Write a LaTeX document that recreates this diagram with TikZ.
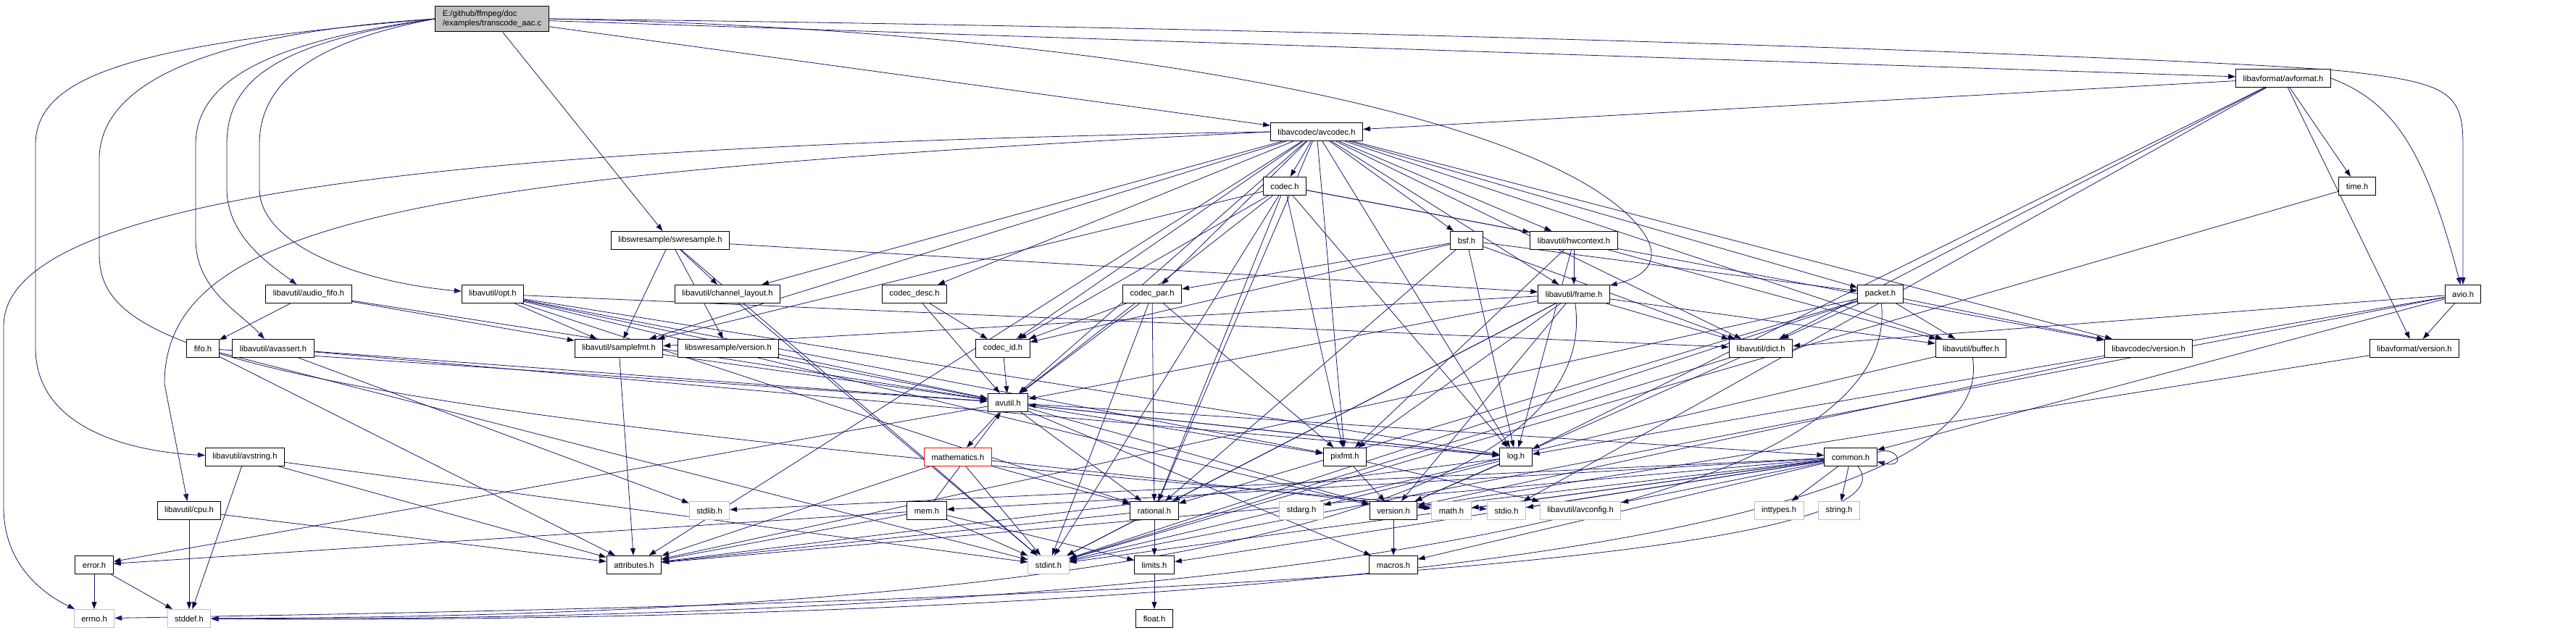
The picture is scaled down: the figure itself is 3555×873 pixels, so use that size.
\documentclass[tikz,border=0pt]{standalone}
\usepackage{fontspec}
\usepackage{tikz}
\usetikzlibrary{arrows.meta,backgrounds}
\newfontfamily\dxfont{Liberation Sans}
\definecolor{dxEdge}{HTML}{191970}
\definecolor{dxGray}{HTML}{BFBFBF}
\definecolor{dxRed}{HTML}{FF0000}
\tikzset{
  dx-box/.style={
    draw=black, line width=1pt, fill=white,
    font=\dxfont\fontsize{11.2}{13.5}\selectfont,
    inner xsep=10pt, inner ysep=2pt, minimum height=25pt
  },
  dx-sys/.style={dx-box, draw=dxGray},
  dx-trunc/.style={dx-box, draw=dxRed},
  dx-main/.style={dx-box, fill=dxGray, align=left, inner ysep=6pt},
  dx-dep/.style={-{Triangle[length=10pt,width=7pt]}, draw=dxEdge,
    line width=0.8pt}
}

\begin{document}
\begin{tikzpicture}[x=1pt, y=-1pt]
\useasboundingbox (0,0) rectangle (3555,873);
% top file and its direct includes
\node[dx-main] (main) at (679,26) {E:/github/ffmpeg/doc\\/examples/transcode\_aac.c};
\node[dx-box] (avformat) at (3151,108) {libavformat/avformat.h};
\node[dx-box] (avcodec) at (1817,182) {libavcodec/avcodec.h};
\node[dx-box] (codec) at (1773,257) {codec.h};
\node[dx-box] (timeh) at (3253,257) {time.h};
\node[dx-box] (swr) at (925,332) {libswresample/swresample.h};
\node[dx-box] (bsf) at (2024,332) {bsf.h};
\node[dx-box] (hwctx) at (2172,332) {libavutil/hwcontext.h};
\node[dx-box] (afifo) at (426,406) {libavutil/audio\_fifo.h};
\node[dx-box] (opt) at (680,406) {libavutil/opt.h};
\node[dx-box] (chlayout) at (1004,406) {libavutil/channel\_layout.h};
\node[dx-box] (cdesc) at (1262,406) {codec\_desc.h};
\node[dx-box] (cpar) at (1590,406) {codec\_par.h};
\node[dx-box] (frame) at (2172,406) {libavutil/frame.h};
\node[dx-box] (packet) at (2595,406) {packet.h};
\node[dx-box] (avio) at (3399,406) {avio.h};
% libavutil level
\node[dx-box] (fifo) at (280,481) {fifo.h};
\node[dx-box] (avassert) at (377,481) {libavutil/avassert.h};
\node[dx-box] (samplefmt) at (854,481) {libavutil/samplefmt.h};
\node[dx-box] (swrver) at (1005,481) {libswresample/version.h};
\node[dx-box] (codecid) at (1384,481) {codec\_id.h};
\node[dx-box] (dict) at (2430,481) {libavutil/dict.h};
\node[dx-box] (buffer) at (2720,481) {libavutil/buffer.h};
\node[dx-box] (avcver) at (2965,481) {libavcodec/version.h};
\node[dx-box] (avfver) at (3332,481) {libavformat/version.h};
\node[dx-box] (avutil) at (1391,556) {avutil.h};
\node[dx-box] (avstring) at (338,631) {libavutil/avstring.h};
\node[dx-trunc] (mathh) at (1322,631) {mathematics.h};
\node[dx-box] (pixfmt) at (1856,631) {pixfmt.h};
\node[dx-box] (logh) at (2092,631) {log.h};
\node[dx-box] (common) at (2554,631) {common.h};
% leaf headers
\node[dx-box] (cpu) at (261,705) {libavutil/cpu.h};
\node[dx-sys] (stdlib) at (979,705) {stdlib.h};
\node[dx-box] (mem) at (1279,705) {mem.h};
\node[dx-box] (rational) at (1593,705) {rational.h};
\node[dx-sys] (stdarg) at (1796,705) {stdarg.h};
\node[dx-box] (version) at (1923,705) {version.h};
\node[dx-sys] (mathc) at (2003,705) {math.h};
\node[dx-sys] (stdio) at (2079,705) {stdio.h};
\node[dx-sys] (avconfig) at (2181,705) {libavutil/avconfig.h};
\node[dx-sys] (inttypes) at (2455,705) {inttypes.h};
\node[dx-sys] (stringh) at (2538,705) {string.h};
\node[dx-box] (error) at (130,780) {error.h};
\node[dx-box] (attributes) at (875,780) {attributes.h};
\node[dx-sys] (stdint) at (1447,780) {stdint.h};
\node[dx-box] (limits) at (1593,780) {limits.h};
\node[dx-box] (macros) at (1923,780) {macros.h};
\node[dx-sys] (errno) at (130,854) {errno.h};
\node[dx-sys] (stddef) at (261,854) {stddef.h};
\node[dx-box] (floath) at (1593,854) {float.h};

\begin{scope}[on background layer]
% includes of the example file
\draw[dx-dep] (main) edge (avformat) edge (avcodec) edge (swr);
\draw[dx-dep] (main.east) .. controls (1500,40) and (2100,150) .. (2250,300)
  .. controls (2300,350) and (2280,380) .. (frame);
\draw[dx-dep] (main.east) .. controls (2000,40) and (3150,85) .. (3250,100)
  .. controls (3380,115) and (3399,130) .. (3399,200) -- (avio);
\draw[dx-dep] (main.west) .. controls (200,60) and (49,100) .. (49,200) -- (49,480)
  .. controls (49,600) and (200,625) .. (avstring);
\draw[dx-dep] (main.west) .. controls (300,45) and (137,110) .. (137,220) -- (137,350)
  .. controls (137,480) and (300,560) .. (stdio);
\draw[dx-dep] (main.west) .. controls (350,60) and (270,120) .. (270,200) -- (270,330)
  .. controls (270,400) and (330,430) .. (avassert);
\draw[dx-dep] (main.west) .. controls (380,60) and (313,110) .. (313,200) -- (313,260)
  .. controls (313,330) and (380,370) .. (afifo);
\draw[dx-dep] (main.west) .. controls (420,60) and (358,120) .. (358,200) -- (358,260)
  .. controls (358,340) and (500,390) .. (opt);

% libavformat / libavcodec
\draw[dx-dep] (avformat) edge (timeh) edge (stdio) edge (avcodec) edge (dict) edge (logh) edge (avfver);
\draw[dx-dep] (avformat.east) .. controls (3300,140) and (3345,200) .. (avio);
\draw[dx-dep] (avcodec) edge (samplefmt) edge (attributes) edge (avutil) edge (buffer) edge (chlayout)
  edge (dict) edge (frame) edge (hwctx) edge (logh) edge (pixfmt) edge (rational) edge (bsf)
  edge (codec) edge (cdesc) edge (cpar) edge (codecid) edge (packet) edge (avcver);
\draw[dx-dep] (avcodec.west) .. controls (700,200) and (5,260) .. (5,450) -- (5,700)
  .. controls (5,780) and (60,820) .. (errno);
\draw[dx-dep] (avcodec.west) .. controls (600,240) and (227,300) .. (227,530) -- (cpu);
\draw[dx-dep] (codec) edge (stdint) edge (avutil) edge (hwctx) edge (logh) edge (pixfmt) edge (rational)
  edge (samplefmt) edge (codecid) edge (avcver);
\draw[dx-dep] (bsf) edge (dict) edge (logh) edge (rational) edge (codecid) edge (cpar) edge (packet);
\draw[dx-dep] (cdesc) edge (avutil) edge (codecid);
\draw[dx-dep] (codecid) edge (avutil);
\draw[dx-dep] (cpar) edge (stdint) edge (avutil) edge (rational) edge (pixfmt) edge (codecid);
\draw[dx-dep] (packet) edge (stdint) edge (attributes) edge (buffer) edge (dict)
  edge (rational) edge (avcver);
\draw[dx-dep] (packet) .. controls (2640,830) and (900,857) .. (stddef);
\draw[dx-dep] (avcver) edge (version);
\draw[dx-dep] (avio) edge (stdint) edge (common) edge (dict) edge (logh) edge (avfver);
\draw[dx-dep] (avfver) edge (version);
\draw[dx-dep] (timeh) edge (stdint);
\draw[dx-dep] (swr) edge (stdint) edge (chlayout) edge (frame) edge (samplefmt) edge (swrver);
\draw[dx-dep] (swrver) edge (avutil);

% libavutil
\draw[dx-dep] (hwctx) edge (buffer) edge (frame) edge (logh) edge (pixfmt);
\draw[dx-dep] (frame) edge (stdint) edge (avutil) edge (buffer) edge (dict) edge (rational)
  edge (samplefmt) edge (pixfmt) edge (version);
\draw[dx-dep] (frame) .. controls (2230,820) and (900,852) .. (stddef);
\draw[dx-dep] (buffer) edge (stdint);
\draw[dx-dep] (buffer) .. controls (2780,835) and (900,860) .. (stddef);
\draw[dx-dep] (dict) edge (stdint) edge (version);
\draw[dx-dep] (opt) edge (rational) edge (avutil) edge (dict) edge (logh) edge (pixfmt) edge (samplefmt)
  edge (version);
\draw[dx-dep] (afifo) edge (avutil) edge (fifo) edge (samplefmt);
\draw[dx-dep] (fifo) edge (stdint) edge (avutil) edge (attributes);
\draw[dx-dep] (avassert) edge (stdlib) edge (avutil) edge (logh);
\draw[dx-dep] (avstring) edge (stddef) edge (stdint) edge (attributes);
\draw[dx-dep] (chlayout) edge (stdint);
\draw[dx-dep] (samplefmt) edge (avutil) edge (attributes);
\draw[dx-dep] (avutil) edge (common) edge (error) edge (rational) edge (version) edge (macros)
  edge (mathh) edge (logh) edge (pixfmt);
\draw[dx-dep] (common) edge (inttypes) edge (limits) edge (mathc) edge (stdint) edge (stdio)
  edge (stdlib) edge (stringh) edge (attributes) edge (macros) edge (version) edge (avconfig) edge (mem);
\draw[dx-dep] (common) .. controls (2700,820) and (600,845) .. (errno);
\draw[dx-dep] (common.10) .. controls +(30,-10) and +(40,10) .. (common.-10);
\draw[dx-dep] (mathh) edge (stdint) edge (mathc) edge (attributes) edge (rational);
\draw[dx-dep] (logh) edge (stdarg) edge (avutil) edge (attributes) edge (version);
\draw[dx-dep] (pixfmt) edge (avconfig) edge (version);
\draw[dx-dep] (mem) edge (limits) edge (stdint) edge (attributes) edge (error) edge (avutil);
\draw[dx-dep] (rational) edge (stdint) edge (limits) edge (attributes);
\draw[dx-dep] (cpu) edge (stddef) edge (attributes);
\draw[dx-dep] (error) edge (errno) edge (stddef);
\draw[dx-dep] (version) edge (macros);
\draw[dx-dep] (limits) edge (floath);
\end{scope}
\end{tikzpicture}
\end{document}
